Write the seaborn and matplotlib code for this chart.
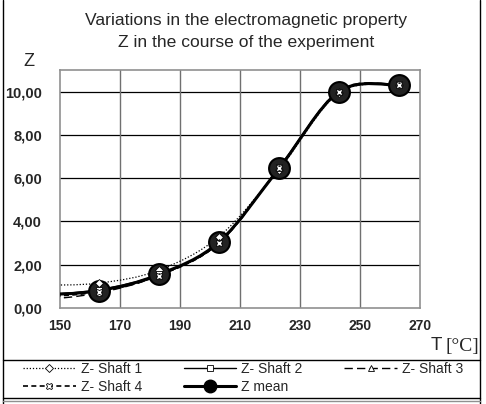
import numpy as np
import seaborn as sns
import matplotlib.pyplot as plt
from matplotlib.path import Path
from matplotlib.patches import PathPatch
from matplotlib.lines import Line2D

# temperatures (first point lies left of the visible range, like the source chart)
temp = [143, 163, 183, 203, 223, 243, 263]
z_shaft1 = [1.05, 1.15, 1.75, 3.30, 6.40, 9.95, 10.30]
z_shaft2 = [0.60, 0.85, 1.55, 3.00, 6.50, 10.00, 10.35]
z_shaft3 = [0.35, 0.70, 1.50, 3.05, 6.45, 10.05, 10.30]
z_shaft4 = [0.50, 0.75, 1.50, 3.00, 6.45, 10.00, 10.30]
z_mean = [0.60, 0.80, 1.55, 3.05, 6.45, 10.00, 10.30]

x_ticks = [150, 170, 190, 210, 230, 250, 270]
y_ticks = [0, 2, 4, 6, 8, 10]


def smooth_path(xs, ys):
    # excel-like smoothed line: catmull-rom segments as cubic bezier
    pts = np.column_stack([xs, ys]).astype(float)
    p = np.vstack([pts[0], pts, pts[-1]])
    verts = [tuple(pts[0])]
    codes = [Path.MOVETO]
    for i in range(1, len(p) - 2):
        c1 = p[i] + (p[i + 1] - p[i - 1]) / 6
        c2 = p[i + 1] - (p[i + 2] - p[i]) / 6
        verts += [tuple(c1), tuple(c2), tuple(p[i + 1])]
        codes += [Path.CURVE4] * 3
    return Path(verts, codes)


sns.set_style('white')
plt.rcParams['font.family'] = ['Liberation Sans', 'DejaVu Sans']

fig = plt.figure(figsize=(4.86, 4.04), dpi=100)
ax = fig.add_axes([60 / 486, 96 / 404, 360 / 486, 238 / 404])

series = [
    ('Z- Shaft 1', z_shaft1, (0, (1, 1.5)), 0.9, 'D', 4),
    ('Z- Shaft 2', z_shaft2, '-', 1.0, 's', 4.5),
    ('Z- Shaft 3', z_shaft3, (0, (6, 3)), 1.0, '^', 5),
    ('Z- Shaft 4', z_shaft4, (0, (3, 2)), 1.2, 'X', 5),
]

ax.set_xlim(150, 270)
ax.set_ylim(0, 11)

# mean curve + marker first, shafts' little markers on top
ax.add_patch(PathPatch(smooth_path(temp, z_mean), fill=False, ec='black', lw=2.2, zorder=3))
for name, vals, ls, lw, mk, ms in series:
    ax.add_patch(PathPatch(smooth_path(temp, vals), fill=False, ec='black', lw=lw, ls=ls, zorder=3))
sns.lineplot(x=temp, y=z_mean, ax=ax, color='black', linestyle='', marker='o',
             markersize=15, markerfacecolor='#222222', markeredgecolor='black',
             markeredgewidth=1.5, zorder=4)
for name, vals, ls, lw, mk, ms in series:
    sns.lineplot(x=temp, y=vals, ax=ax, color='black', linestyle='', marker=mk,
                 markersize=ms, markerfacecolor='white', markeredgecolor='black',
                 markeredgewidth=0.6, zorder=5)

ax.set_xticks(x_ticks)
ax.set_yticks(y_ticks)
ax.set_xticklabels([str(t) for t in x_ticks], fontsize=10, fontweight='bold')
ax.set_yticklabels([f'{v:.2f}'.replace('.', ',') for v in y_ticks], fontsize=10.5, fontweight='bold')
ax.tick_params(axis='both', direction='out', length=4, width=1, color='#707070')
ax.tick_params(axis='x', pad=4)
ax.tick_params(axis='y', pad=9)

for y in y_ticks[1:]:
    ax.axhline(y, color='black', lw=0.9, zorder=1)
for x in x_ticks[1:-1]:
    ax.axvline(x, color='#707070', lw=1, zorder=1)
for s in ax.spines.values():
    s.set_color('#909090')
    s.set_linewidth(1.2)

fig.text(246 / 486, 1 - 20 / 404, 'Variations in the electromagnetic property',
         ha='center', va='center', fontsize=12.6)
fig.text(246 / 486, 1 - 42 / 404, 'Z in the course of the experiment',
         ha='center', va='center', fontsize=12.6)
fig.text(29 / 486, 1 - 62 / 404, 'Z', ha='center', va='center', fontsize=13)
fig.text(442 / 486, 1 - 346 / 404, 'T', ha='right', va='center', fontsize=13.5)
fig.text(445 / 486, 1 - 346 / 404, '[°C]', ha='left', va='center', fontsize=14,
         family=['Liberation Serif', 'DejaVu Serif'])

handles = [Line2D([], [], color='black', ls=ls, lw=lw, marker=mk, markersize=ms,
                  markerfacecolor='white', markeredgewidth=0.6)
           for name, vals, ls, lw, mk, ms in series]
handles.append(Line2D([], [], color='black', lw=2.2, marker='o', markersize=9))
labels = ['Z- Shaft 1', 'Z- Shaft 2', 'Z- Shaft 3', 'Z- Shaft 4', 'Z mean']
# 3 columns, filled row by row
order = [0, 3, 1, 4, 2]
leg = fig.legend([handles[i] for i in order], [labels[i] for i in order], ncol=3,
                 loc='upper left', bbox_to_anchor=(23 / 486, 1 - 362 / 404),
                 frameon=False, fontsize=10, handlelength=3.8, handletextpad=0.35,
                 borderaxespad=0, borderpad=0, labelspacing=0.3, columnspacing=3.0)

# legend box and outer chart border
line_kw = dict(color='black', lw=1, transform=fig.transFigure)
fig.add_artist(Line2D([3 / 486, 480 / 486], [1 - 360 / 404] * 2, **line_kw))
fig.add_artist(Line2D([3 / 486, 480 / 486], [1 - 398 / 404] * 2, **line_kw))
fig.add_artist(Line2D([3 / 486, 3 / 486], [0, 1], **line_kw))
fig.add_artist(Line2D([480 / 486, 480 / 486], [0, 1], **line_kw))
fig.add_artist(Line2D([3 / 486, 480 / 486], [1 - 401 / 404] * 2, color='#909090', lw=1,
                      transform=fig.transFigure))

fig.savefig('out.png', dpi=100)
